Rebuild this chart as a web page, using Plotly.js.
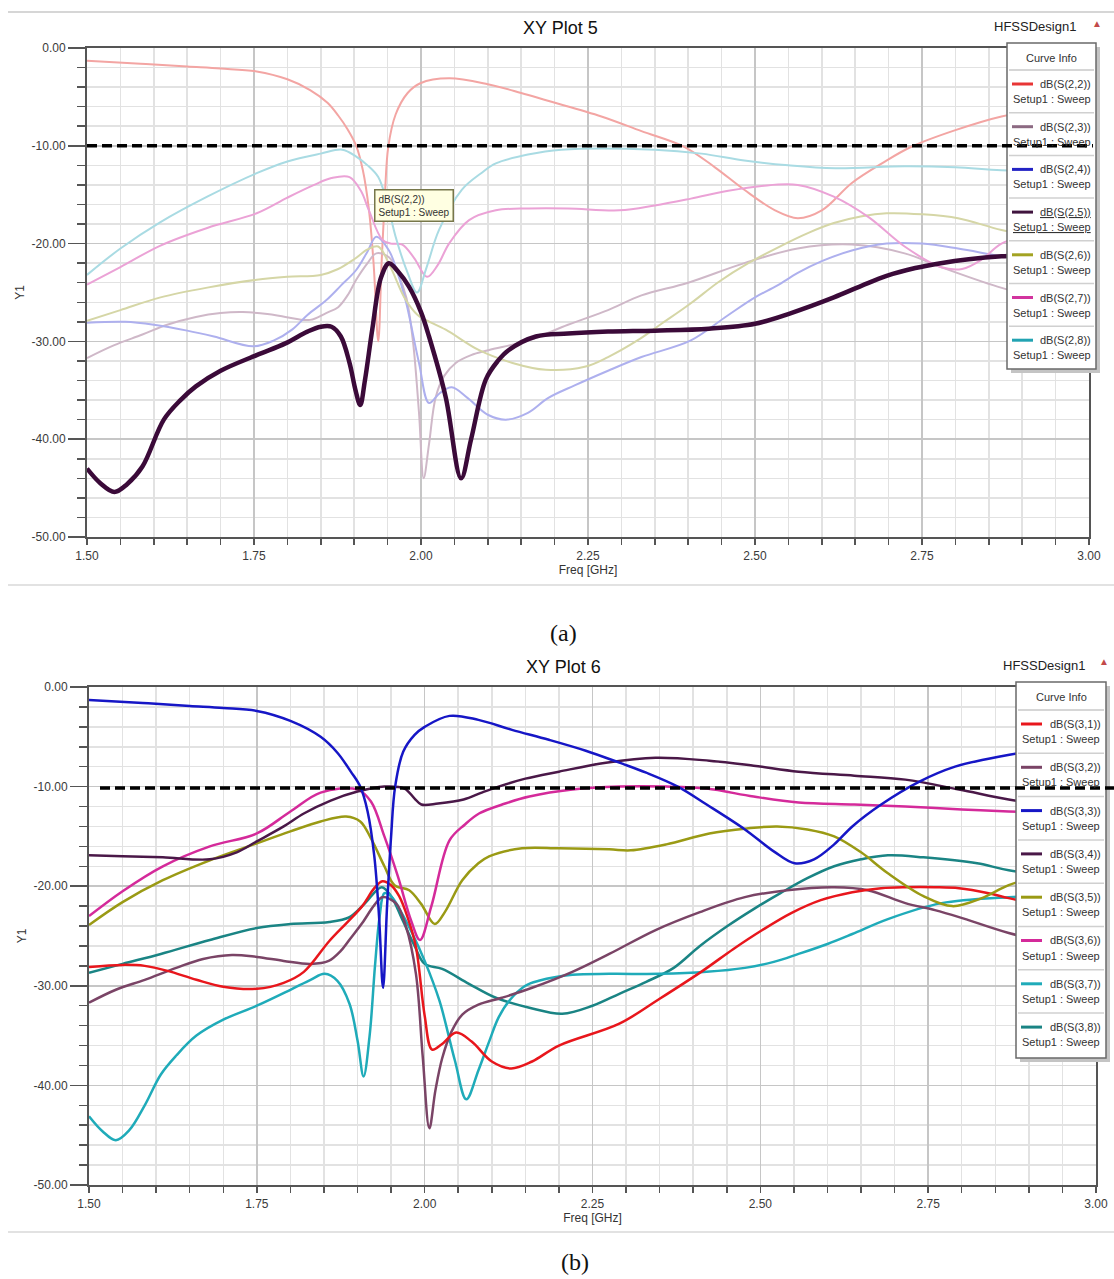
<!DOCTYPE html>
<html><head><meta charset="utf-8">
<script src="https://cdn.plot.ly/plotly-3.0.1.min.js"></script>
<style>html,body{margin:0;padding:0;background:#fff;}#chart{width:1114px;height:1279px;}</style>
</head><body><div id="chart"></div>
<script>
// ---------------- DATA : plot (a) "XY Plot 5" ----------------
const f_S22 = [1.50,1.58,1.65,1.70,1.754,1.80,1.834,1.86,1.876,1.89,1.903,1.913,1.922,1.929,1.936,1.941,1.946,1.951,1.962,1.98,1.999,2.042,2.10,2.15,2.19,2.27,2.33,2.394,2.44,2.484,2.53,2.564,2.60,2.645,2.69,2.734,2.80,2.869,2.94,3.00];
const dB_S22 = [-1.3,-1.6,-1.9,-2.1,-2.4,-3.2,-4.3,-5.6,-6.9,-8.3,-10.0,-12.5,-16.5,-22,-30.0,-22,-15,-10.1,-6.8,-4.6,-3.6,-3.1,-3.7,-4.6,-5.4,-7.0,-8.5,-10.1,-12.2,-14.5,-16.6,-17.4,-16.6,-13.8,-11.8,-10.1,-8.4,-7.0,-6.2,-5.8];

const f_S23 = [1.50,1.54,1.583,1.62,1.663,1.70,1.733,1.77,1.797,1.834,1.858,1.876,1.89,1.903,1.92,1.933,1.952,1.965,1.978,1.988,1.997,2.004,2.012,2.022,2.035,2.052,2.075,2.101,2.161,2.22,2.28,2.33,2.40,2.484,2.564,2.645,2.724,2.778,2.863,2.93,3.00];
const dB_S23 = [-31.7,-30.4,-29.3,-28.3,-27.5,-27.1,-27.0,-27.2,-27.5,-27.8,-27.1,-26.5,-25.3,-23.7,-22.0,-21.0,-21.4,-23.0,-25.5,-30.0,-37.3,-44.0,-40.5,-35.7,-33.5,-32.2,-31.4,-30.9,-29.9,-28.3,-26.8,-25.3,-24.0,-22.0,-20.5,-20.1,-21.0,-22.4,-24.4,-25.6,-26.5];

const f_S24 = [1.50,1.557,1.60,1.65,1.69,1.749,1.78,1.807,1.83,1.858,1.88,1.903,1.92,1.933,1.952,1.965,1.978,1.997,2.012,2.028,2.046,2.07,2.10,2.127,2.16,2.19,2.23,2.28,2.33,2.404,2.458,2.50,2.533,2.564,2.60,2.645,2.697,2.75,2.804,2.869,2.94,3.00];
const dB_S24 = [-28.1,-28.0,-28.3,-28.9,-29.5,-30.5,-29.9,-28.8,-27.3,-25.8,-24.3,-22.7,-20.8,-19.3,-20.7,-23.0,-26.1,-32.2,-36.3,-35.3,-34.7,-35.8,-37.5,-38.0,-37.3,-35.8,-34.5,-33.0,-31.6,-29.9,-27.4,-25.5,-24.3,-23.0,-21.8,-20.7,-20.0,-20.0,-20.5,-21.3,-22.0,-22.6];

const f_S25 = [1.50,1.52,1.541,1.56,1.583,1.615,1.64,1.663,1.70,1.754,1.797,1.83,1.85,1.866,1.88,1.893,1.902,1.909,1.916,1.927,1.94,1.952,1.965,1.982,2.00,2.012,2.037,2.06,2.075,2.097,2.115,2.131,2.172,2.22,2.28,2.35,2.431,2.50,2.554,2.618,2.66,2.697,2.74,2.778,2.82,2.869,2.94,3.00];
const dB_S25 = [-43.0,-44.5,-45.4,-44.6,-42.8,-38.0,-36.0,-34.6,-33.0,-31.4,-30.2,-29.0,-28.5,-28.5,-29.5,-32.2,-35.0,-36.5,-34.0,-28.8,-23.5,-22.0,-22.8,-24.4,-27.0,-29.5,-35.7,-44.0,-40.0,-33.9,-32.0,-30.9,-29.5,-29.2,-29.0,-28.9,-28.7,-28.2,-27.1,-25.5,-24.3,-23.3,-22.5,-22.0,-21.6,-21.3,-21.1,-21.0];

const f_S26 = [1.50,1.55,1.61,1.68,1.754,1.80,1.85,1.876,1.90,1.92,1.936,1.955,1.975,1.995,2.007,2.037,2.087,2.137,2.187,2.245,2.28,2.324,2.36,2.404,2.446,2.49,2.537,2.58,2.618,2.66,2.697,2.75,2.804,2.869,2.94,3.00];
const dB_S26 = [-27.9,-26.8,-25.5,-24.5,-23.7,-23.4,-23.2,-22.6,-21.6,-20.6,-20.3,-22.5,-25.5,-27.3,-27.8,-28.8,-30.9,-32.2,-32.9,-32.6,-31.6,-29.9,-28.2,-26.1,-23.9,-22.0,-20.3,-18.9,-17.9,-17.2,-16.9,-17.0,-17.4,-18.6,-19.5,-20.2];

const f_S27 = [1.50,1.55,1.61,1.68,1.754,1.80,1.84,1.866,1.893,1.91,1.922,1.942,1.955,1.972,1.99,2.009,2.025,2.042,2.072,2.112,2.161,2.22,2.297,2.35,2.404,2.46,2.51,2.564,2.618,2.67,2.724,2.778,2.81,2.84,2.869,2.94,3.00];
const dB_S27 = [-24.2,-22.4,-20.2,-18.4,-16.9,-15.3,-14.0,-13.3,-13.2,-14.6,-16.6,-19.6,-20.0,-20.1,-21.5,-23.4,-22.2,-20.0,-17.6,-16.6,-16.4,-16.4,-16.6,-16.1,-15.4,-14.6,-14.1,-14.0,-15.2,-17.3,-20.3,-22.4,-22.6,-21.6,-20.0,-18.5,-17.5];

const f_S28 = [1.50,1.55,1.61,1.68,1.754,1.80,1.85,1.882,1.903,1.92,1.936,1.95,1.962,1.98,1.994,2.008,2.027,2.061,2.09,2.112,2.16,2.21,2.35,2.42,2.484,2.55,2.62,2.724,2.80,2.869,3.00];
const dB_S28 = [-23.2,-20.5,-17.8,-15.2,-12.8,-11.6,-10.8,-10.4,-11.1,-12.0,-13.2,-16.0,-19.3,-23.0,-25.0,-22.5,-18.6,-14.5,-12.8,-11.8,-10.9,-10.4,-10.4,-10.8,-11.5,-12.0,-12.3,-12.1,-12.2,-12.5,-12.8];

// ---------------- DATA : plot (b) "XY Plot 6" ----------------
const f_S31 = [1.50,1.55,1.583,1.617,1.66,1.70,1.75,1.79,1.82,1.858,1.885,1.907,1.925,1.937,1.95,1.962,1.975,1.987,2.00,2.011,2.025,2.047,2.07,2.10,2.129,2.16,2.20,2.29,2.35,2.414,2.46,2.503,2.546,2.59,2.637,2.68,2.716,2.76,2.796,2.84,2.87,2.93,3.00];
const dB_S31 = [-28.1,-27.9,-28.0,-28.5,-29.4,-30.1,-30.3,-29.7,-28.6,-25.5,-23.6,-22.0,-20.2,-19.5,-19.9,-21.0,-23.2,-26.1,-33.0,-36.4,-35.9,-34.7,-35.6,-37.6,-38.3,-37.6,-36.0,-33.8,-31.3,-28.5,-26.3,-24.4,-22.7,-21.4,-20.6,-20.2,-20.1,-20.1,-20.2,-20.7,-21.2,-22.0,-22.8];

const f_S32 = [1.50,1.54,1.583,1.63,1.67,1.713,1.75,1.79,1.83,1.857,1.875,1.89,1.907,1.925,1.937,1.957,1.972,1.987,1.997,2.007,2.016,2.026,2.04,2.056,2.08,2.115,2.16,2.22,2.275,2.344,2.41,2.477,2.54,2.61,2.66,2.716,2.76,2.796,2.87,2.94,3.00];
const dB_S32 = [-31.7,-30.4,-29.4,-28.2,-27.3,-26.9,-27.1,-27.5,-27.8,-27.5,-26.5,-25.2,-23.7,-21.9,-21.1,-21.7,-24.0,-28.8,-37.0,-44.3,-40.5,-37.3,-34.6,-32.9,-31.9,-31.2,-30.2,-28.6,-26.8,-24.4,-22.6,-21.1,-20.4,-20.1,-20.4,-21.7,-22.4,-23.1,-24.7,-25.8,-26.8];

const f_S33 = [1.50,1.58,1.65,1.70,1.75,1.80,1.845,1.87,1.89,1.904,1.915,1.925,1.932,1.938,1.944,1.95,1.956,1.968,1.985,2.00,2.037,2.08,2.13,2.185,2.24,2.29,2.33,2.377,2.42,2.477,2.52,2.551,2.58,2.61,2.637,2.68,2.737,2.79,2.84,2.871,2.93,3.00];
const dB_S33 = [-1.3,-1.6,-1.9,-2.1,-2.4,-3.4,-5.0,-6.6,-8.5,-10.0,-12.5,-17,-23,-30.2,-22,-15,-10.0,-6.5,-4.8,-4.0,-2.9,-3.3,-4.3,-5.3,-6.4,-7.6,-8.6,-10.0,-11.8,-14.3,-16.5,-17.7,-17.3,-15.8,-14.0,-11.8,-9.5,-8.0,-7.2,-6.8,-6.2,-5.8];

const f_S34 = [1.50,1.55,1.61,1.68,1.72,1.75,1.79,1.82,1.86,1.90,1.94,1.97,1.985,1.995,2.02,2.058,2.085,2.11,2.15,2.20,2.27,2.344,2.424,2.49,2.557,2.64,2.716,2.796,2.87,2.94,3.00];
const dB_S34 = [-16.9,-17.0,-17.1,-17.3,-16.6,-15.5,-14.0,-12.7,-11.4,-10.5,-10.0,-10.2,-11.2,-11.8,-11.7,-11.3,-10.6,-10.0,-9.2,-8.5,-7.6,-7.1,-7.4,-7.9,-8.5,-8.9,-9.3,-10.3,-11.3,-12.0,-12.5];

const f_S35 = [1.50,1.55,1.61,1.68,1.75,1.80,1.845,1.883,1.904,1.92,1.94,1.955,1.977,1.995,2.015,2.03,2.056,2.08,2.096,2.145,2.20,2.275,2.307,2.36,2.424,2.48,2.525,2.57,2.61,2.65,2.69,2.743,2.786,2.83,2.87,2.94,3.00];
const dB_S35 = [-23.9,-21.6,-19.4,-17.4,-15.7,-14.5,-13.5,-13.0,-13.5,-15.2,-18.0,-19.9,-20.4,-21.8,-23.8,-22.6,-19.4,-17.7,-17.0,-16.2,-16.2,-16.3,-16.4,-15.8,-14.7,-14.2,-14.0,-14.3,-15.0,-16.6,-18.7,-21.0,-22.0,-21.2,-19.9,-18.5,-17.5];

const f_S36 = [1.50,1.55,1.61,1.68,1.75,1.80,1.845,1.90,1.92,1.94,1.96,1.98,1.993,2.01,2.037,2.06,2.081,2.12,2.156,2.22,2.29,2.36,2.42,2.49,2.557,2.64,2.716,2.80,2.87,3.00];
const dB_S36 = [-23.0,-20.5,-18.0,-16.0,-14.7,-12.5,-10.6,-10.3,-11.5,-15.0,-19.0,-23.5,-25.4,-22.0,-15.4,-13.8,-12.7,-11.7,-11.0,-10.3,-10.0,-10.0,-10.2,-11.0,-11.6,-11.8,-12.0,-12.3,-12.5,-12.8];

const f_S37 = [1.50,1.52,1.54,1.56,1.583,1.607,1.63,1.66,1.70,1.75,1.80,1.83,1.851,1.87,1.888,1.90,1.909,1.918,1.926,1.933,1.94,1.95,1.965,1.982,2.00,2.022,2.045,2.062,2.08,2.096,2.11,2.126,2.15,2.17,2.22,2.275,2.35,2.42,2.477,2.52,2.557,2.60,2.637,2.69,2.77,2.87,3.00];
const dB_S37 = [-43.1,-44.6,-45.5,-44.5,-42.0,-38.9,-37.0,-35.0,-33.4,-32.0,-30.4,-29.4,-28.8,-29.5,-31.8,-35.5,-39.1,-35,-28,-23,-20.7,-21.0,-22.6,-24.8,-27.5,-31.5,-37.5,-41.4,-38.5,-35.6,-33.2,-31.5,-30.0,-29.5,-28.9,-28.8,-28.8,-28.6,-28.2,-27.6,-26.8,-25.8,-24.8,-23.3,-21.7,-21.1,-20.8];

const f_S38 = [1.50,1.55,1.607,1.68,1.75,1.80,1.858,1.888,1.91,1.936,1.95,1.967,1.985,2.00,2.026,2.066,2.106,2.156,2.205,2.25,2.29,2.33,2.371,2.41,2.451,2.49,2.53,2.57,2.61,2.65,2.69,2.743,2.823,2.87,3.00];
const dB_S38 = [-28.7,-27.8,-26.8,-25.4,-24.2,-23.8,-23.6,-23.1,-21.8,-20.1,-21.0,-23.4,-26.0,-27.8,-28.3,-29.8,-31.2,-32.2,-32.8,-32.0,-30.8,-29.6,-28.2,-26.0,-24.0,-22.3,-20.7,-19.2,-18.0,-17.3,-16.9,-17.1,-17.7,-18.4,-19.5];

// ---------------- LABELS / TICKS ----------------
const namesA = ['dB(S(2,2))','dB(S(2,3))','dB(S(2,4))','dB(S(2,5))','dB(S(2,6))','dB(S(2,7))','dB(S(2,8))'];
const namesB = ['dB(S(3,1))','dB(S(3,2))','dB(S(3,3))','dB(S(3,4))','dB(S(3,5))','dB(S(3,6))','dB(S(3,7))','dB(S(3,8))'];
const setupLabel = 'Setup1 : Sweep';
const xTickVals = [1.50,1.75,2.00,2.25,2.50,2.75,3.00];
const xTickText = ['1.50','1.75','2.00','2.25','2.50','2.75','3.00'];
const yTickVals = [0,-10,-20,-30,-40,-50];
const yTickText = ['0.00','-10.00','-20.00','-30.00','-40.00','-50.00'];
const threshold = -10;

// ---------------- STYLE ----------------
const FONT = "'Liberation Sans',Arial,sans-serif";
const SERIF = "'Liberation Serif','DejaVu Serif',serif";
const W = 1114, H = 1279;
const px = v => v / W;
const py = v => 1 - v / H;

const legendColA = ['#e83535','#8c6a82','#2323c4','#40143e','#a3a322','#d2349e','#22a3b2'];
const plotColA   = ['#f3a5a3','#cfb8c8','#aeb0ee','#3b0a39','#d5d6a6','#eba2d6','#a9dbe3'];
const widthA     = [2,2,2,4.5,2,2,2];
const colB = ['#e8161c','#7a4466','#1616c6','#4a1848','#9a9a14','#d42a9a','#1fabb9','#1a8484'];

const fA = [f_S22,f_S23,f_S24,f_S25,f_S26,f_S27,f_S28];
const yA = [dB_S22,dB_S23,dB_S24,dB_S25,dB_S26,dB_S27,dB_S28];
const fB = [f_S31,f_S32,f_S33,f_S34,f_S35,f_S36,f_S37,f_S38];
const yB = [dB_S31,dB_S32,dB_S33,dB_S34,dB_S35,dB_S36,dB_S37,dB_S38];

const traces = [];
const orderA = [0,1,2,4,5,6,3];
orderA.forEach(i => traces.push({
  x: fA[i], y: yA[i], xaxis:'x', yaxis:'y', type:'scatter', mode:'lines', name: namesA[i],
  line:{color: plotColA[i], width: widthA[i], shape:'spline', smoothing:1.0},
  hoverinfo:'skip', showlegend:false
}));
[7,6,1,0,4,5,3,2].forEach(i => traces.push({
  x: fB[i], y: yB[i], xaxis:'x2', yaxis:'y2', type:'scatter', mode:'lines', name: namesB[i],
  line:{color: colB[i], width: 2.5, shape:'spline', smoothing:1.0},
  hoverinfo:'skip', showlegend:false
}));

function xAxis(d0, d1, anchor) {
  return {
    domain:[px(d0), px(d1)], range:[1.5,3.0], anchor: anchor,
    tickmode:'array', tickvals:xTickVals, ticktext:xTickText,
    ticks:'outside', ticklen:6, tickwidth:1.5, tickcolor:'#555',
    ticklabelstandoff:1,
    showline:true, linecolor:'#555', linewidth:2, mirror:true,
    showgrid:true, gridcolor:'#c6c6c6', gridwidth:1.5, zeroline:false,
    minor:{tickmode:'linear', tick0:1.5, dtick:0.05, ticks:'outside', ticklen:6, tickwidth:1.5, tickcolor:'#555', showgrid:true, gridcolor:'#e2e2e2', gridwidth:1.5},
    tickfont:{family:FONT, size:12, color:'#3a3a3a'},
    title:{text:'Freq [GHz]', font:{family:FONT, size:12, color:'#333'}, standoff:1}
  };
}
function yAxis(d0, d1, anchor) {
  return {
    domain:[py(d1), py(d0)], range:[-50,0], anchor: anchor,
    tickmode:'array', tickvals:yTickVals, ticktext:yTickText,
    ticks:'outside', ticklen:17, tickwidth:1.5, tickcolor:'#555',
    showline:true, linecolor:'#555', linewidth:2, mirror:true,
    showgrid:true, gridcolor:'#c6c6c6', gridwidth:1.5, zeroline:false,
    minor:{tickmode:'linear', tick0:0, dtick:2, ticks:'outside', ticklen:8, tickwidth:1.5, tickcolor:'#555', showgrid:true, gridcolor:'#e2e2e2', gridwidth:1.5},
    tickfont:{family:FONT, size:12, color:'#3a3a3a'},
    title:{text:'Y1', font:{family:FONT, size:12, color:'#333'}, standoff:4}
  };
}

const shapes = [];
const annotations = [];
function hline(x0, x1, y, color, width, dash) {
  shapes.push({type:'line', xref:'paper', yref:'paper', x0:px(x0), x1:px(x1), y0:py(y), y1:py(y),
    line:{color:color, width:width, dash:dash||'solid'}, layer:'above'});
}
function text(x, y, t, size, opts) {
  opts = opts || {};
  annotations.push(Object.assign({xref:'paper', yref:'paper', x:px(x), y:py(y), text:t, showarrow:false,
    xanchor:'center', yanchor:'middle', font:{family:opts.family||FONT, size:size, color:opts.color||'#222'}}, opts.extra||{}));
}

// frame separators
hline(8, 1114, 12, '#d6d6d6', 2);
hline(8, 1114, 585, '#e2e2e2', 2);
hline(8, 1114, 1232, '#e2e2e2', 2);

// titles
text(560, 28, 'XY Plot 5', 18, {color:'#111'});
text(563, 667, 'XY Plot 6', 18, {color:'#111'});
text(1035, 27, 'HFSSDesign1', 13, {color:'#222'});
text(1044, 665, 'HFSSDesign1', 13, {color:'#222'});
text(1097, 23, '▲', 10, {color:'#c24a4a'});
text(1104, 661, '▲', 10, {color:'#c24a4a'});
text(564, 633, '(a)', 24, {family:SERIF, color:'#111'});
text(575, 1262, '(b)', 24, {family:SERIF, color:'#111'});

// marker tooltip in (a)
annotations.push({xref:'paper', yref:'paper', x:px(414), y:py(205), text:'dB(S(2,2))<br>Setup1 : Sweep',
  showarrow:false, align:'left', xanchor:'center', yanchor:'middle', bgcolor:'#ffffe2', bordercolor:'#77774a',
  borderwidth:1.5, borderpad:3, font:{family:FONT, size:10, color:'#333'}});

// custom "Curve Info" boxes
function curveInfo(x0, x1, y0, y1, headerY, sepY, step, names, colors, selected) {
  shapes.push({type:'rect', xref:'paper', yref:'paper', x0:px(x0+4), x1:px(x1+4), y0:py(y1+4), y1:py(y0+4),
    fillcolor:'#c4c4c4', line:{width:0}, layer:'above'});
  shapes.push({type:'rect', xref:'paper', yref:'paper', x0:px(x0), x1:px(x1), y0:py(y1), y1:py(y0),
    fillcolor:'#ffffff', line:{color:'#6a6a6a', width:1.5}, layer:'above'});
  text((x0+x1)/2, headerY, 'Curve Info', 11, {color:'#333'});
  hline(x0+2, x1-2, sepY, '#c8c8c8', 1.5);
  names.forEach((n, i) => {
    const top = sepY + step*i;
    hline(x0+5, x0+26, top+14, colors[i], 3);
    const u = (i === selected);
    text(x1-3, top+14, u ? '<u>'+n+'</u>' : n, 11, {color:'#333', extra:{xanchor:'right'}});
    text(x0+4, top+29, u ? '<u>'+setupLabel+'</u>' : setupLabel, 11, {color:'#333', extra:{xanchor:'left'}});
    if (i < names.length-1) hline(x0+2, x1-2, top+step, '#d0d0d0', 1.5);
  });
}
curveInfo(1007, 1096, 43, 369, 58, 70, 42.7, namesA, legendColA, 3);
curveInfo(1016, 1106, 682, 1058, 697, 710, 43.3, namesB, colB, -1);

// -10 dB threshold dashed lines (drawn over everything)
shapes.push({type:'line', xref:'paper', yref:'paper', x0:px(87), x1:px(1093),
  y0:py(48 + (-threshold)*9.77), y1:py(48 + (-threshold)*9.77), line:{color:'#000', width:3.5, dash:'10px,5px'}, layer:'above'});
shapes.push({type:'line', xref:'paper', yref:'paper', x0:px(100), x1:px(1114),
  y0:py(687 + (-threshold)*9.96 + 1.5), y1:py(687 + (-threshold)*9.96 + 1.5), line:{color:'#000', width:3.5, dash:'10px,5px'}, layer:'above'});

const layout = {
  width:W, height:H, margin:{l:0,r:0,t:0,b:0},
  paper_bgcolor:'#ffffff', plot_bgcolor:'#ffffff',
  showlegend:false,
  xaxis: xAxis(87, 1089, 'y'),
  yaxis: yAxis(48, 537, 'x'),
  xaxis2: xAxis(89, 1096, 'y2'),
  yaxis2: yAxis(687, 1185, 'x2'),
  shapes: shapes,
  annotations: annotations
};

Plotly.newPlot('chart', traces, layout, {displayModeBar:false, staticPlot:true});
</script>
</body></html>
